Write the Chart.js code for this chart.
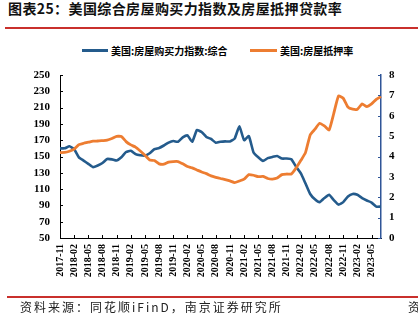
<!DOCTYPE html>
<html>
<head>
<meta charset="utf-8">
<script src="https://cdn.jsdelivr.net/npm/chart.js@4.4.1/dist/chart.umd.min.js"></script>
<style>
  html, body { margin: 0; padding: 0; background: #fff; }
  body { width: 418px; height: 327px; position: relative; overflow: hidden; }
  #c { position: absolute; left: 0; top: 0; }
  .abs { position: absolute; white-space: nowrap; }
  #title { left: 8px; top: 0px; font: bold 14px "Noto Sans CJK SC", sans-serif; line-height: 16px; letter-spacing: 0.4px; color: #111; }
  #rule1 { left: 5px; top: 27px; width: 413px; height: 2px; background: #c9302c; }
  #rule2 { left: 7px; top: 296px; width: 411px; height: 2px; background: #c9302c; }
  .legline { height: 3px; top: 49px; }
  .legtxt { top: 44px; font: bold 10px "Noto Sans CJK SC", sans-serif; line-height: 13px; color: #000; }
  #source { left: 20px; top: 300px; font: 12px "Noto Sans CJK SC", sans-serif; line-height: 14px; letter-spacing: 2px; color: #222; }
  #src2 { left: 408px; top: 300px; font: 12px "Noto Sans CJK SC", sans-serif; line-height: 14px; color: #222; }
</style>
</head>
<body>
<div id="title" class="abs">图表25：美国综合房屋购买力指数及房屋抵押贷款率</div>
<div id="rule1" class="abs"></div>
<div class="abs legline" style="left:82px;width:26px;background:#245B8C;"></div>
<div class="abs legtxt" style="left:111px;">美国:房屋购买力指数:综合</div>
<div class="abs legline" style="left:250px;width:27px;background:#ED7D31;"></div>
<div class="abs legtxt" style="left:280px;">美国:房屋抵押率</div>
<canvas id="c" width="418" height="327"></canvas>
<div id="rule2" class="abs"></div>
<div id="source" class="abs">资料来源：同花顺iFinD，南京证券研究所</div>
<div id="src2" class="abs">资</div>
<script>
const months = [
  "2017-11","2017-12",
  "2018-01","2018-02","2018-03","2018-04","2018-05","2018-06","2018-07","2018-08","2018-09","2018-10","2018-11","2018-12",
  "2019-01","2019-02","2019-03","2019-04","2019-05","2019-06","2019-07","2019-08","2019-09","2019-10","2019-11","2019-12",
  "2020-01","2020-02","2020-03","2020-04","2020-05","2020-06","2020-07","2020-08","2020-09","2020-10","2020-11","2020-12",
  "2021-01","2021-02","2021-03","2021-04","2021-05","2021-06","2021-07","2021-08","2021-09","2021-10","2021-11","2021-12",
  "2022-01","2022-02","2022-03","2022-04","2022-05","2022-06","2022-07","2022-08","2022-09","2022-10","2022-11","2022-12",
  "2023-01","2023-02","2023-03","2023-04","2023-05","2023-06","2023-07"
];
const affordabilityIndex = [
  160,160,162.5,159,149,145,141,137,139,142,
  147,146.5,145,149,155.5,157,153,151.5,151,154,
  159,160.5,163.5,167,169,168,173.5,176,168,182.5,
  180,174,171.5,167,168,168.5,168.5,172,187,170,
  175,155,149,144.5,148,149.5,150.5,147.5,147.5,146.5,
  137.5,129.5,117,104,97.5,94,99,103,96.5,91,
  94,101,104,103,99,96,93.5,88.5,88.5
];
const mortgageRate = [
  4.19,4.2,4.26,4.36,4.58,4.65,4.7,4.75,4.76,4.78,
  4.8,4.88,4.99,4.98,4.73,4.57,4.46,4.27,4.06,3.83,
  3.8,3.64,3.62,3.72,3.75,3.75,3.64,3.51,3.44,3.34,
  3.24,3.16,3.05,2.98,2.92,2.87,2.8,2.72,2.8,2.89,
  3.11,3.08,3.01,3.02,2.92,2.89,2.94,3.11,3.14,3.14,
  3.43,3.8,4.19,5.06,5.34,5.63,5.5,5.3,6.12,6.97,
  6.86,6.42,6.32,6.32,6.58,6.45,6.58,6.8,6.94
];
const leftTicks = { min: 50, max: 250, step: 20 };
const rightTicks = { min: 0, max: 8, step: 1 };
const labelEvery = 3;

const numFont = { family: "'Liberation Serif', 'Times New Roman', serif", weight: 'bold' };

const innerTicks = {
  id: 'innerTicks',
  afterDraw(chart) {
    const ctx = chart.ctx;
    const x = chart.scales.x, y = chart.scales.y, y1 = chart.scales.y1;
    const a = chart.chartArea;
    ctx.save();
    ctx.lineWidth = 1;
    ctx.strokeStyle = '#000';
    ctx.beginPath();
    months.forEach((m, i) => {
      if (i % labelEvery === 0) {
        const px = Math.round(x.getPixelForValue(i)) + 0.5;
        ctx.moveTo(px, a.bottom);
        ctx.lineTo(px, a.bottom - 3);
      }
    });
    for (let v = leftTicks.min; v <= leftTicks.max; v += leftTicks.step) {
      const py = Math.round(y.getPixelForValue(v)) + 0.5;
      ctx.moveTo(a.left, py);
      ctx.lineTo(a.left + 3, py);
    }
    ctx.stroke();
    ctx.strokeStyle = '#2F5597';
    ctx.beginPath();
    for (let v = rightTicks.min; v <= rightTicks.max; v += rightTicks.step) {
      const py = Math.round(y1.getPixelForValue(v)) + 0.5;
      ctx.moveTo(a.right, py);
      ctx.lineTo(a.right - 3, py);
    }
    ctx.stroke();
    ctx.restore();
  }
};

new Chart(document.getElementById('c'), {
  type: 'line',
  data: {
    labels: months,
    datasets: [
      {
        label: '美国:房屋购买力指数:综合',
        data: affordabilityIndex,
        yAxisID: 'y',
        borderColor: '#245B8C',
        borderWidth: 2.6,
        pointRadius: 0,
        tension: 0.15,
        order: 2
      },
      {
        label: '美国:房屋抵押率',
        data: mortgageRate,
        yAxisID: 'y1',
        borderColor: '#ED7D31',
        borderWidth: 2.8,
        pointRadius: 0,
        tension: 0.15,
        order: 1
      }
    ]
  },
  options: {
    responsive: false,
    devicePixelRatio: 1,
    animation: false,
    layout: { padding: { top: 75, left: 0, right: 0, bottom: 0 } },
    plugins: { legend: { display: false }, tooltip: { enabled: false } },
    scales: {
      x: {
        type: 'category',
        offset: false,
        grid: { display: false, drawTicks: false },
        border: { display: true, color: '#000', width: 1 },
        ticks: {
          autoSkip: false,
          maxRotation: 90,
          minRotation: 90,
          padding: 6,
          color: '#000',
          font: { ...numFont, size: 10 },
          callback: function(value, index) { return index % labelEvery === 0 ? months[index] : ''; }
        },
        afterFit(s) { s.height = 327 - 238; }
      },
      y: {
        position: 'left',
        min: leftTicks.min, max: leftTicks.max,
        grid: { display: false, drawTicks: false },
        border: { display: true, color: '#000', width: 1 },
        ticks: { stepSize: leftTicks.step, padding: 10, color: '#000', font: { ...numFont, size: 11 } },
        afterFit(s) { s.width = 60; }
      },
      y1: {
        position: 'right',
        min: rightTicks.min, max: rightTicks.max,
        grid: { display: false, drawTicks: false },
        border: { display: true, color: '#2F5597', width: 1.5 },
        ticks: { stepSize: rightTicks.step, padding: 8, color: '#000', font: { ...numFont, size: 11 } },
        afterFit(s) { s.width = 418 - 381; }
      }
    }
  },
  plugins: [innerTicks]
});
</script>
</body>
</html>
